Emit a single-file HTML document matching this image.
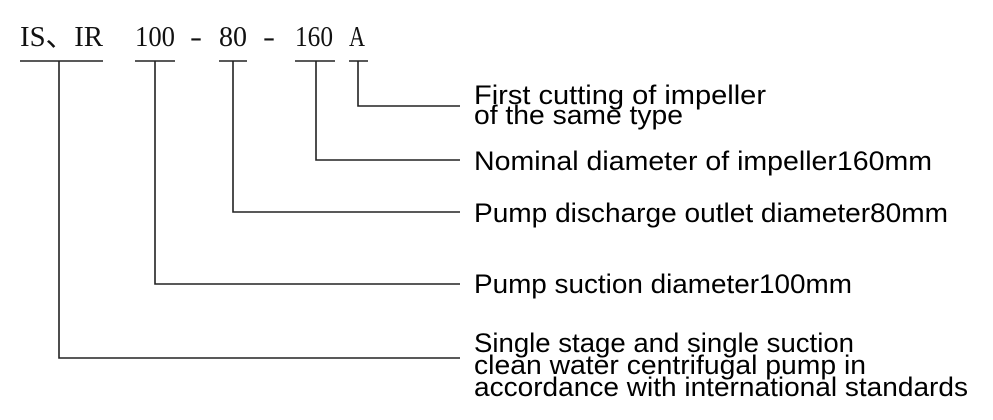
<!DOCTYPE html>
<html><head><meta charset="utf-8"><style>html,body{margin:0;padding:0;background:#fff}svg{display:block}</style></head>
<body>
<svg width="993" height="420" viewBox="0 0 993 420" xmlns="http://www.w3.org/2000/svg">
<g font-family="'Liberation Serif', serif" font-size="28" fill="#111">
<text x="20" y="46" textLength="83" lengthAdjust="spacingAndGlyphs">IS、IR</text>
<text x="135" y="46" textLength="40" lengthAdjust="spacingAndGlyphs">100</text>
<text x="190" y="46" textLength="12" lengthAdjust="spacingAndGlyphs">-</text>
<text x="219" y="46" textLength="28" lengthAdjust="spacingAndGlyphs">80</text>
<text x="263" y="46" textLength="12" lengthAdjust="spacingAndGlyphs">-</text>
<text x="295" y="46" textLength="38" lengthAdjust="spacingAndGlyphs">160</text>
<text x="349" y="46" textLength="16" lengthAdjust="spacingAndGlyphs">A</text>
</g>
<g stroke="#222" stroke-width="1.6" fill="none">
<line x1="20" y1="61" x2="103" y2="61"/>
<line x1="135" y1="61" x2="175" y2="61"/>
<line x1="219" y1="61" x2="247" y2="61"/>
<line x1="295" y1="61" x2="335" y2="61"/>
<line x1="349" y1="61" x2="368" y2="61"/>
<polyline points="59,61 59,358 460,358"/>
<polyline points="155,61 155,284 460,284"/>
<polyline points="233,61 233,212 460,212"/>
<polyline points="316,61 316,160 460,160"/>
<polyline points="358,61 358,106 460,106"/>
</g>
<g font-family="'Liberation Sans', sans-serif" font-size="27" fill="#000">
<text x="474" y="104" textLength="292" lengthAdjust="spacingAndGlyphs">First cutting of impeller</text>
<text x="474" y="124" textLength="209" lengthAdjust="spacingAndGlyphs">of the same type</text>
<text x="474" y="170" textLength="458" lengthAdjust="spacingAndGlyphs">Nominal diameter of impeller160mm</text>
<text x="474" y="222" textLength="474" lengthAdjust="spacingAndGlyphs">Pump discharge outlet diameter80mm</text>
<text x="474" y="293" textLength="378" lengthAdjust="spacingAndGlyphs">Pump suction diameter100mm</text>
<text x="474" y="352" textLength="380" lengthAdjust="spacingAndGlyphs">Single stage and single suction</text>
<text x="474" y="374" textLength="392" lengthAdjust="spacingAndGlyphs">clean water centrifugal pump in</text>
<text x="474" y="396" textLength="494" lengthAdjust="spacingAndGlyphs">accordance with international standards</text>
</g>
</svg>
</body></html>
